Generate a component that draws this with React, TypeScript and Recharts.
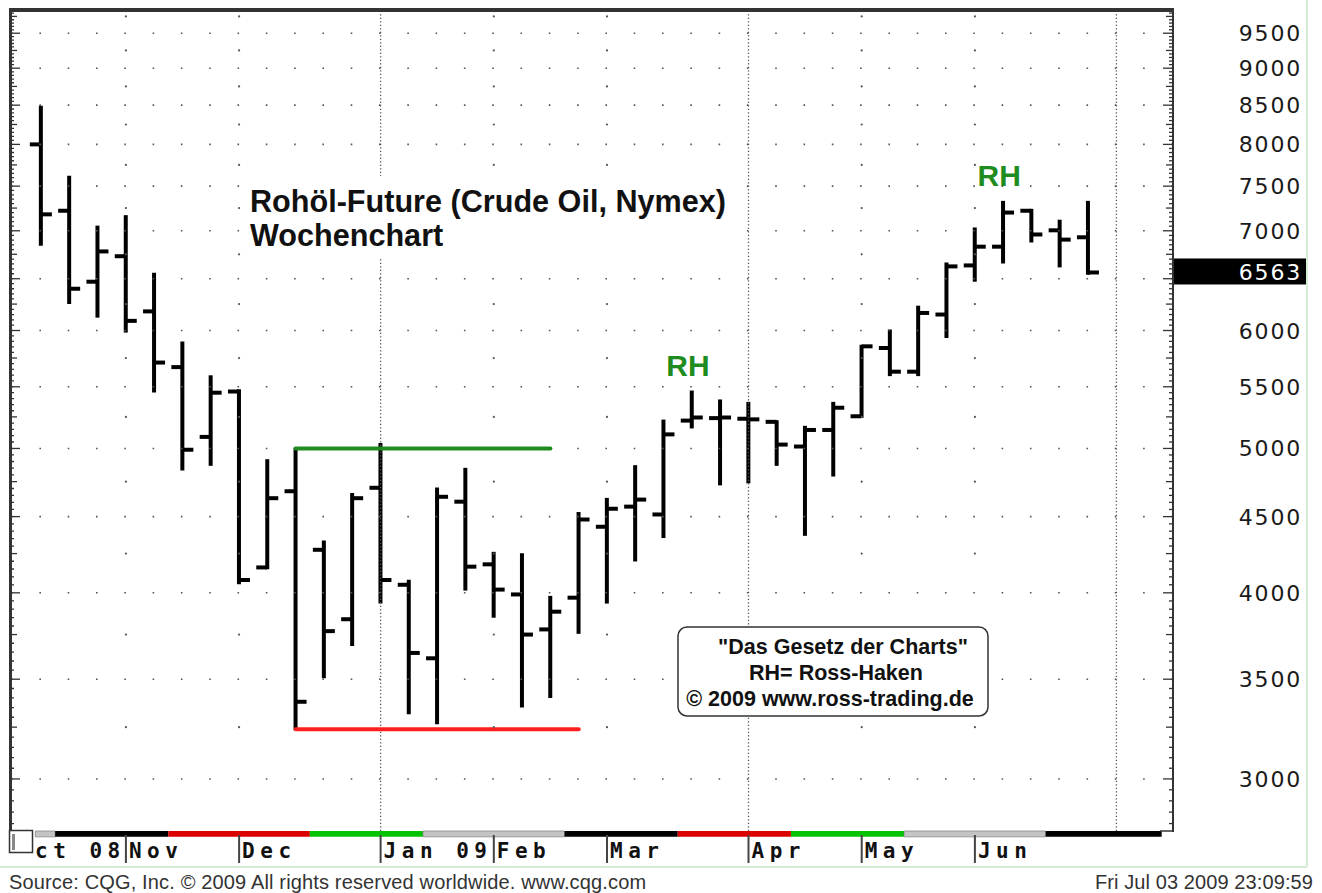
import React from "react";
import {
  ComposedChart,
  Bar,
  XAxis,
  YAxis,
  ReferenceLine,
  ReferenceDot,
  ReferenceArea,
} from "recharts";

// weekly bars, week start dates
const weeks = [
  "2008-10-13", "2008-10-20", "2008-10-27", "2008-11-03", "2008-11-10", "2008-11-17", "2008-11-24",
  "2008-12-01", "2008-12-08", "2008-12-15", "2008-12-22", "2008-12-29", "2009-01-05", "2009-01-12",
  "2009-01-19", "2009-01-26", "2009-02-02", "2009-02-09", "2009-02-16", "2009-02-23", "2009-03-02",
  "2009-03-09", "2009-03-16", "2009-03-23", "2009-03-30", "2009-04-06", "2009-04-13", "2009-04-20",
  "2009-04-27", "2009-05-04", "2009-05-11", "2009-05-18", "2009-05-25", "2009-06-01", "2009-06-08",
  "2009-06-15", "2009-06-22", "2009-06-29",
];
const opens = [
  8000, 7220, 6470, 6730, 6180, 5670, 5090, 5460, 4160, 4680, 4275, 3840, 4705, 4050, 3615, 4605,
  4180, 3990, 3780, 3970, 4430, 4570, 4515, 5220, 5240, 5235, 5210, 5015, 5145, 5255, 5840, 5630,
  6150, 6635, 6830, 7220, 7005, 6930,
];
const highs = [
  8480, 7610, 7045, 7160, 6550, 5890, 5590, 5470, 4910, 5000, 4330, 4660, 5035, 4075, 4700, 4845,
  4255, 4245, 3975, 4525, 4625, 4865, 5220, 5460, 5385, 5365, 5215, 5170, 5365, 5860, 6000, 6225,
  6655, 7025, 7320, 7230, 7110, 7320,
];
const lows = [
  6850, 6260, 6130, 5990, 5460, 4840, 4875, 4060, 4155, 3240, 3510, 3690, 3940, 3320, 3270, 4020,
  3855, 3355, 3405, 3760, 3940, 4205, 4360, 5165, 4730, 4745, 4875, 4375, 4795, 5250, 5600, 5600,
  5940, 6480, 6665, 6885, 6625, 6550,
];
const closes = [
  7180, 6400, 6780, 6090, 5710, 4990, 5450, 4080, 4630, 3380, 3770, 4630, 4080, 3645, 4640, 4165,
  4020, 3750, 3885, 4480, 4555, 4620, 5110, 5245, 5245, 5230, 5030, 5145, 5325, 5855, 5630, 6165,
  6625, 6830, 7200, 6960, 6905, 6563,
];

const priceLabels = [3000, 3500, 4000, 4500, 5000, 5500, 6000, 6500, 7000, 7500, 8000, 8500, 9000, 9500];
const halfLevels = [3250, 3750, 4250, 4750, 5250, 5750, 6250, 6750, 7250, 7750, 8250, 8750, 9250, 9750];
const monthTicks = [0, 3, 7, 12, 16, 20, 25, 29, 33];
const monthLabels = ["ct 08", "Nov", "Dec", "Jan 09", "Feb", "Mar", "Apr", "May", "Jun"];
const quarterLines = [12, 25, 38];
const monthDotCols = [3, 7, 16, 20, 29, 33];
const bandEdges = [-0.2, 0.5, 4.5, 9.5, 13.5, 18.5, 22.5, 26.5, 30.5, 35.5, 39.6];
const bandColors = ["#c4c4c4", "#000", "#dd0000", "#00c400", "#c4c4c4", "#000", "#dd0000", "#00c400", "#c4c4c4", "#000"];
const rhBars = [23, 34];
const rangeTop = 5000;
const rangeBottom = 3240;
const lastPrice = 6563;

const W = 1322;
const H = 893;
const PL = 12;
const PR = 1173;
const PT = 10;
const PB = 831;
const X_DOMAIN: [number, number] = [-1.025, 40];
const Y_DOMAIN: [number, number] = [2768, 9847];

const minorTicks = Array.from({ length: 141 }, (_, k) => 2800 + 50 * k);

const rows = weeks.map((week, i) => ({
  i,
  week,
  open: opens[i],
  high: highs[i],
  low: lows[i],
  close: closes[i],
  range: [lows[i], highs[i]],
}));

const AXIS_FONT = "'DejaVu Sans', sans-serif";
const MONO_FONT = "'DejaVu Sans Mono', monospace";
const SANS = "'Liberation Sans', Arial, sans-serif";
const GREEN = "#1f8c1f";

const OhlcShape = (props: any) => {
  const { x, y, width, height, payload } = props;
  if (!payload) return null;
  const cx = x + width / 2;
  const top = Math.min(y, y + height);
  const span = Math.abs(height);
  const lh = Math.log(payload.high);
  const ll = Math.log(payload.low);
  const at = (v: number) => top + (span * (lh - Math.log(v))) / (lh - ll || 1);
  const yo = at(payload.open);
  const yc = at(payload.close);
  return (
    <g stroke="#000" strokeWidth={4}>
      <line x1={cx} x2={cx} y1={top - 1} y2={top + span + 1} />
      <line x1={cx - 11} x2={cx} y1={yo} y2={yo} />
      <line x1={cx} x2={cx + 11} y1={yc} y2={yc} />
    </g>
  );
};

const PriceTick = (props: any) => {
  const { y, payload } = props;
  const v = payload.value;
  const major = v % 500 === 0;
  const mid = !major && v % 250 === 0;
  const len = major ? 10 : mid ? 7 : 4;
  return (
    <g>
      <line x1={PR - len} x2={PR} y1={y} y2={y} stroke="#333" strokeWidth={1.3} />
      <line x1={PL} x2={PL + len - 2} y1={y} y2={y} stroke="#333" strokeWidth={1.3} />
      {major && v !== 6500 && (
        <text
          x={1302}
          y={y + 8}
          textAnchor="end"
          fontFamily={AXIS_FONT}
          fontSize={22}
          letterSpacing={1.8}
          fill="#1a1a1a"
        >
          {v}
        </text>
      )}
    </g>
  );
};

const MonthTick = (props: any) => {
  const { x, payload } = props;
  const k = monthTicks.indexOf(payload.value);
  const first = k === 0;
  return (
    <g>
      {!first && <line x1={x} x2={x} y1={PB + 4} y2={PB + 32} stroke="#444" strokeWidth={2} />}
      <text
        x={first ? x - 6 : x + 3}
        y={PB + 27}
        fontFamily={MONO_FONT}
        fontWeight="bold"
        fontSize={21}
        letterSpacing={5.5}
        fill="#111"
      >
        {monthLabels[k]}
      </text>
    </g>
  );
};

const RhShape = (props: any) => (
  <text
    x={props.cx - 4}
    y={props.cy - 16}
    textAnchor="middle"
    fontFamily={SANS}
    fontWeight="bold"
    fontSize={30}
    fill={GREEN}
  >
    RH
  </text>
);

const LastPriceShape = (props: any) => (
  <g>
    <rect x={PR} y={props.cy - 14} width={1307 - PR} height={26} fill="#000" />
    <text
      x={1302}
      y={props.cy + 8}
      textAnchor="end"
      fontFamily={AXIS_FONT}
      fontSize={22}
      letterSpacing={1.8}
      fill="#fff"
    >
      {lastPrice}
    </text>
  </g>
);

const Overlay = () => (
  <svg width={W} height={H} style={{ position: "absolute", left: 0, top: 0, pointerEvents: "none" }}>
    {/* outer border */}
    <line x1={1307} x2={1307} y1={0} y2={867} stroke="#d6ecd6" strokeWidth={2} />
    <line x1={0} x2={1307} y1={867} y2={867} stroke="#d6ecd6" strokeWidth={2} />
    {/* plot frame */}
    <line x1={9} x2={1174} y1={10} y2={10} stroke="#333" strokeWidth={4} />
    <line x1={10.5} x2={10.5} y1={8} y2={PB} stroke="#333" strokeWidth={3} />
    <line x1={PR} x2={PR} y1={8} y2={PB + 1} stroke="#333" strokeWidth={2} />
    <line x1={1160} x2={PR + 1} y1={PB} y2={PB} stroke="#333" strokeWidth={1.5} />
    {/* small corner box */}
    <rect x={9.5} y={830.5} width={23} height={22} fill="#fff" stroke="#333" strokeWidth={1.5} />
    <rect x={12} y={834} width={3} height={16} fill="#888" />
    {/* title */}
    <rect x={244} y={176} width={492} height={82} fill="#fff" />
    <text x={250} y={212} fontFamily={SANS} fontWeight="bold" fontSize={30.6} fill="#111">
      Rohöl-Future (Crude Oil, Nymex)
    </text>
    <text x={250} y={246} fontFamily={SANS} fontWeight="bold" fontSize={30.6} fill="#111">
      Wochenchart
    </text>
    {/* info box */}
    <rect x={678} y={627} width={310} height={89} rx={9} fill="#fff" stroke="#333" strokeWidth={1.5} />
    <g fontFamily={SANS} fontWeight="bold" fontSize={21.5} fill="#111" textAnchor="middle">
      <text x={843} y={654}>"Das Gesetz der Charts"</text>
      <text x={836} y={680}>RH= Ross-Haken</text>
      <text x={830} y={706}>© 2009 www.ross-trading.de</text>
    </g>
    {/* footer */}
    <text x={9} y={889} fontFamily={SANS} fontSize={20} letterSpacing={0.15} fill="#333">
      Source: CQG, Inc. © 2009 All rights reserved worldwide. www.cqg.com
    </text>
    <text x={1313} y={889} textAnchor="end" fontFamily={SANS} fontSize={20} letterSpacing={0.1} fill="#333">
      Fri Jul 03 2009 23:09:59
    </text>
  </svg>
);

export default function App() {
  return (
    <div style={{ position: "absolute", left: 0, top: 0, width: W, height: H, background: "#fff" }}>
      <ComposedChart
        width={W}
        height={H}
        data={rows}
        margin={{ top: PT, right: 9, bottom: 12, left: PL }}
      >
        <XAxis
          dataKey="i"
          type="number"
          domain={X_DOMAIN}
          allowDataOverflow
          ticks={monthTicks}
          interval={0}
          tickLine={false}
          axisLine={false}
          tickSize={0}
          height={50}
          tick={MonthTick}
        />
        <YAxis
          orientation="right"
          scale="log"
          type="number"
          domain={Y_DOMAIN}
          allowDataOverflow
          ticks={minorTicks}
          interval={0}
          tickLine={false}
          axisLine={false}
          width={140}
          tick={PriceTick}
        />
        {priceLabels.map((v) => (
          <ReferenceLine key={`g${v}`} y={v} stroke="#555" strokeWidth={1.6} strokeDasharray="1.6 26.7" />
        ))}
        {monthDotCols.map((c) =>
          halfLevels.map((v) => (
            <ReferenceDot key={`d${c}-${v}`} x={c} y={v} r={1.1} fill="#555" stroke="none" />
          ))
        )}
        {quarterLines.map((q) => (
          <ReferenceLine key={`q${q}`} x={q} stroke="#555" strokeWidth={1.3} strokeDasharray="1.3 2.2" ifOverflow="visible" />
        ))}
        {bandColors.map((col, k) => (
          <ReferenceArea
            key={`b${k}`}
            x1={bandEdges[k]}
            x2={bandEdges[k + 1]}
            y1={Y_DOMAIN[0] * 0.991}
            y2={Y_DOMAIN[0]}
            fill={col}
            fillOpacity={1}
            stroke={col === "#c4c4c4" ? "#888" : "none"}
            strokeWidth={0.8}
            ifOverflow="visible"
          />
        ))}
        <ReferenceLine
          segment={[{ x: 9, y: rangeTop }, { x: 18, y: rangeTop }]}
          stroke={GREEN}
          strokeWidth={4}
          strokeLinecap="round"
        />
        <ReferenceLine
          segment={[{ x: 9, y: rangeBottom }, { x: 19, y: rangeBottom }]}
          stroke="#ff1f1f"
          strokeWidth={4}
          strokeLinecap="round"
        />
        <Bar dataKey="range" barSize={24} shape={OhlcShape} isAnimationActive={false} />
        {rhBars.map((b) => (
          <ReferenceDot key={`rh${b}`} x={b} y={highs[b]} r={1} shape={RhShape} ifOverflow="visible" />
        ))}
        <ReferenceDot x={closes.length - 1} y={lastPrice} r={1} shape={LastPriceShape} ifOverflow="visible" />
      </ComposedChart>
      <Overlay />
    </div>
  );
}
